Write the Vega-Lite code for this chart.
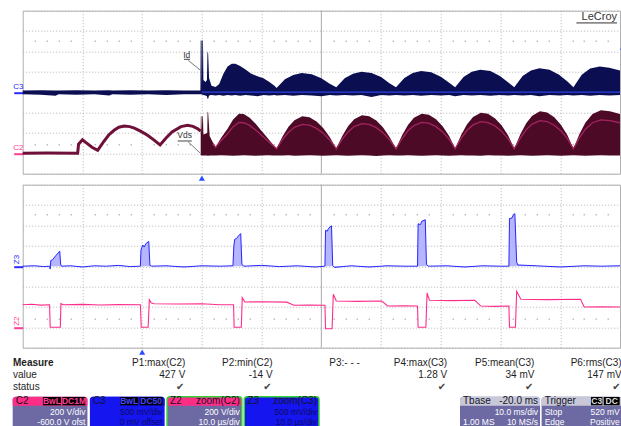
{
  "$schema": "https://vega.github.io/schema/vega-lite/v6.json",
  "background": "white",
  "padding": {"left": 11.7, "top": 8.7, "right": 0, "bottom": 0},
  "spacing": 11,
  "bounds": "flush",
  "config": {
    "font": "Liberation Sans",
    "view": {"stroke": "#b0b0b0", "strokeWidth": 1}
  },
  "datasets": {
    "c3": [
      {"t":0,"hi":0.04,"lo":-0.05},{"t":3,"hi":0.05,"lo":-0.06},{"t":5.5,"hi":0.04,"lo":-0.09},{"t":6,"hi":0.04,"lo":-0.05},{"t":9,"hi":0.05,"lo":-0.06},{"t":12,"hi":0.04,"lo":-0.05},{"t":14.5,"hi":0.05,"lo":-0.08},{"t":15,"hi":0.04,"lo":-0.05},{"t":18,"hi":0.05,"lo":-0.06},{"t":21,"hi":0.04,"lo":-0.05},{"t":24,"hi":0.05,"lo":-0.07},{"t":27,"hi":0.04,"lo":-0.05},
      {"t":29.75,"hi":0.04,"lo":-0.05},{"t":29.8,"hi":1.27,"lo":-0.05},{"t":29.95,"hi":1.27,"lo":-0.05},{"t":30.0,"hi":0.12,"lo":-0.06},{"t":30.07,"hi":1.27,"lo":-0.06},{"t":30.18,"hi":1.27,"lo":-0.06},{"t":30.25,"hi":0.3,"lo":-0.07},{"t":30.6,"hi":0.25,"lo":-0.08},{"t":30.85,"hi":0.3,"lo":-0.1},{"t":30.93,"hi":1.0,"lo":-0.16},{"t":31.05,"hi":0.95,"lo":-0.16},{"t":31.2,"hi":0.35,"lo":-0.08},{"t":31.6,"hi":0.16,"lo":-0.07},{"t":32.3,"hi":0.13,"lo":-0.08},{"t":32.9,"hi":0.2,"lo":-0.07},
      {"t":33.6,"hi":0.45,"lo":-0.09},{"t":34.3,"hi":0.63,"lo":-0.07},{"t":35.0,"hi":0.7,"lo":-0.08},{"t":35.6,"hi":0.7,"lo":-0.07},{"t":36.4,"hi":0.64,"lo":-0.09},{"t":37.3,"hi":0.56,"lo":-0.07},{"t":38.2,"hi":0.46,"lo":-0.08},{"t":39.3,"hi":0.39,"lo":-0.1},{"t":40.3,"hi":0.34,"lo":-0.07},{"t":41.3,"hi":0.25,"lo":-0.08},{"t":42.2,"hi":0.15,"lo":-0.07},{"t":42.5,"hi":0.1,"lo":-0.08},
      {"t":43.9,"hi":0.32,"lo":-0.07},{"t":45.3,"hi":0.42,"lo":-0.09},{"t":46.7,"hi":0.47,"lo":-0.07},{"t":48.4,"hi":0.44,"lo":-0.08},{"t":50.0,"hi":0.34,"lo":-0.1},{"t":51.4,"hi":0.21,"lo":-0.07},{"t":52.5,"hi":0.12,"lo":-0.08},
      {"t":53.9,"hi":0.34,"lo":-0.07},{"t":55.3,"hi":0.45,"lo":-0.08},{"t":56.7,"hi":0.5,"lo":-0.07},{"t":58.4,"hi":0.47,"lo":-0.12},{"t":60.0,"hi":0.37,"lo":-0.07},{"t":61.4,"hi":0.22,"lo":-0.08},{"t":62.5,"hi":0.12,"lo":-0.07},
      {"t":63.9,"hi":0.35,"lo":-0.08},{"t":65.3,"hi":0.47,"lo":-0.07},{"t":66.7,"hi":0.52,"lo":-0.09},{"t":68.4,"hi":0.49,"lo":-0.07},{"t":70.0,"hi":0.38,"lo":-0.08},{"t":71.4,"hi":0.23,"lo":-0.07},{"t":72.4,"hi":0.12,"lo":-0.1},
      {"t":73.8,"hi":0.37,"lo":-0.07},{"t":75.2,"hi":0.5,"lo":-0.08},{"t":76.6,"hi":0.55,"lo":-0.07},{"t":78.3,"hi":0.52,"lo":-0.09},{"t":79.9,"hi":0.4,"lo":-0.07},{"t":81.3,"hi":0.24,"lo":-0.08},{"t":82.3,"hi":0.12,"lo":-0.07},
      {"t":83.7,"hi":0.4,"lo":-0.08},{"t":85.1,"hi":0.53,"lo":-0.07},{"t":86.5,"hi":0.59,"lo":-0.1},{"t":88.2,"hi":0.55,"lo":-0.07},{"t":89.8,"hi":0.43,"lo":-0.08},{"t":91.2,"hi":0.26,"lo":-0.07},{"t":92.2,"hi":0.12,"lo":-0.08},
      {"t":93.6,"hi":0.43,"lo":-0.07},{"t":95.0,"hi":0.58,"lo":-0.09},{"t":96.6,"hi":0.63,"lo":-0.07},{"t":98.2,"hi":0.6,"lo":-0.08},{"t":100,"hi":0.53,"lo":-0.07}
    ],
    "c2pre": [
      {"t":0,"v":0},{"t":4,"v":2},{"t":9.2,"v":0},{"t":9.35,"v":90},{"t":10.0,"v":133},{"t":10.6,"v":105},{"t":11.6,"v":60},{"t":12.55,"v":29},{"t":13.5,"v":110},{"t":14.4,"v":180},{"t":15.3,"v":226},{"t":16.1,"v":256},{"t":17.0,"v":268},{"t":17.9,"v":262},{"t":18.7,"v":248},{"t":19.8,"v":215},{"t":20.9,"v":177},{"t":22.0,"v":130},{"t":23.0,"v":82},{"t":24.0,"v":150},{"t":25.0,"v":210},{"t":26.5,"v":262},{"t":27.6,"v":275},{"t":28.5,"v":265},{"t":29.3,"v":241},{"t":29.8,"v":218}
    ],
    "c2post": [
      {"t":29.8,"hi":218,"lo":-20,"mid":null},{"t":29.82,"hi":365,"lo":-20,"mid":null},{"t":29.92,"hi":365,"lo":-20,"mid":null},{"t":29.96,"hi":200,"lo":-22,"mid":null},{"t":30.08,"hi":365,"lo":-22,"mid":null},{"t":30.18,"hi":365,"lo":-22,"mid":null},{"t":30.25,"hi":185,"lo":-22,"mid":null},{"t":30.9,"hi":200,"lo":-22,"mid":null},{"t":30.95,"hi":410,"lo":-24,"mid":null},{"t":31.05,"hi":400,"lo":-24,"mid":null},{"t":31.3,"hi":170,"lo":-22,"mid":null},
      {"t":31.8,"hi":110,"lo":-22,"mid":94},{"t":32.3,"hi":62,"lo":-22,"mid":58},{"t":33.2,"hi":150,"lo":-20,"mid":124},{"t":34.3,"hi":241,"lo":-22,"mid":192},{"t":35.2,"hi":330,"lo":-24,"mid":259},{"t":36.2,"hi":389,"lo":-22,"mid":303},{"t":37.0,"hi":385,"lo":-20,"mid":300},{"t":38.0,"hi":350,"lo":-22,"mid":274},{"t":39.0,"hi":290,"lo":-24,"mid":229},{"t":40.0,"hi":220,"lo":-22,"mid":176},{"t":41.0,"hi":150,"lo":-20,"mid":124},{"t":42.0,"hi":80,"lo":-22,"mid":71},{"t":42.5,"hi":45,"lo":-22,"mid":45},
      {"t":43.5,"hi":166,"lo":-22,"mid":136},{"t":44.5,"hi":261,"lo":-20,"mid":207},{"t":45.5,"hi":325,"lo":-24,"mid":255},{"t":46.8,"hi":363,"lo":-22,"mid":284},{"t":48.0,"hi":353,"lo":-20,"mid":276},{"t":49.2,"hi":312,"lo":-22,"mid":245},{"t":50.3,"hi":249,"lo":-24,"mid":198},{"t":51.4,"hi":159,"lo":-22,"mid":131},{"t":52.5,"hi":45,"lo":-20,"mid":45},
      {"t":53.5,"hi":170,"lo":-22,"mid":139},{"t":54.5,"hi":268,"lo":-24,"mid":212},{"t":55.5,"hi":334,"lo":-22,"mid":262},{"t":56.8,"hi":373,"lo":-20,"mid":291},{"t":58.0,"hi":363,"lo":-22,"mid":284},{"t":59.2,"hi":321,"lo":-26,"mid":252},{"t":60.3,"hi":255,"lo":-22,"mid":203},{"t":61.4,"hi":163,"lo":-20,"mid":134},{"t":62.5,"hi":45,"lo":-22,"mid":45},
      {"t":63.5,"hi":176,"lo":-22,"mid":143},{"t":64.5,"hi":279,"lo":-20,"mid":221},{"t":65.5,"hi":348,"lo":-22,"mid":272},{"t":66.8,"hi":389,"lo":-24,"mid":303},{"t":68.0,"hi":379,"lo":-22,"mid":296},{"t":69.2,"hi":334,"lo":-20,"mid":262},{"t":70.3,"hi":265,"lo":-22,"mid":210},{"t":71.4,"hi":169,"lo":-24,"mid":138},{"t":72.4,"hi":45,"lo":-22,"mid":45},
      {"t":73.4,"hi":180,"lo":-20,"mid":146},{"t":74.4,"hi":286,"lo":-22,"mid":226},{"t":75.4,"hi":357,"lo":-22,"mid":279},{"t":76.7,"hi":399,"lo":-24,"mid":311},{"t":77.9,"hi":388,"lo":-20,"mid":302},{"t":79.1,"hi":342,"lo":-22,"mid":268},{"t":80.2,"hi":272,"lo":-22,"mid":215},{"t":81.3,"hi":172,"lo":-24,"mid":140},{"t":82.3,"hi":45,"lo":-22,"mid":45},
      {"t":83.3,"hi":184,"lo":-20,"mid":149},{"t":84.3,"hi":295,"lo":-22,"mid":233},{"t":85.3,"hi":368,"lo":-24,"mid":287},{"t":86.6,"hi":412,"lo":-22,"mid":320},{"t":87.8,"hi":401,"lo":-20,"mid":312},{"t":89.0,"hi":353,"lo":-22,"mid":276},{"t":90.1,"hi":280,"lo":-24,"mid":221},{"t":91.2,"hi":177,"lo":-22,"mid":144},{"t":92.2,"hi":45,"lo":-20,"mid":45},
      {"t":93.2,"hi":188,"lo":-22,"mid":152},{"t":94.2,"hi":301,"lo":-24,"mid":237},{"t":95.4,"hi":385,"lo":-22,"mid":300},{"t":96.8,"hi":422,"lo":-20,"mid":328},{"t":98.3,"hi":412,"lo":-22,"mid":320},{"t":100,"hi":385,"lo":-22,"mid":300}
    ],
    "z3": [
      {"t":0,"v":0},{"t":2,"v":0.01},{"t":3.5,"v":-0.01},{"t":4.5,"v":0},{"t":4.6,"v":-0.07},{"t":4.7,"v":0.14},{"t":5.0,"v":0.16},{"t":5.6,"v":0.27},{"t":6.2,"v":0.37},{"t":6.35,"v":0.05},{"t":6.5,"v":0},{"t":8,"v":0.01},{"t":10,"v":-0.02},{"t":12,"v":0.01},{"t":14,"v":0},{"t":16,"v":0.02},{"t":18,"v":-0.01},
      {"t":19.7,"v":0},{"t":19.8,"v":0.4},{"t":20.1,"v":0.52},{"t":20.35,"v":0.47},{"t":20.6,"v":0.55},{"t":21.1,"v":0.61},{"t":21.3,"v":0.02},{"t":21.6,"v":0},{"t":24,"v":0.01},{"t":27,"v":-0.02},{"t":30,"v":0.01},{"t":33,"v":0},
      {"t":35.2,"v":0.01},{"t":35.35,"v":0.5},{"t":35.5,"v":0.66},{"t":35.8,"v":0.68},{"t":36.1,"v":0.74},{"t":36.5,"v":0.8},{"t":36.7,"v":0.05},{"t":37.0,"v":0},{"t":40,"v":0.02},{"t":43,"v":-0.01},{"t":46,"v":0.01},{"t":49,"v":-0.02},
      {"t":50.6,"v":0},{"t":50.7,"v":0.88},{"t":51.0,"v":0.86},{"t":51.2,"v":0.93},{"t":51.7,"v":0.99},{"t":51.9,"v":0.02},{"t":52.2,"v":-0.03},{"t":55,"v":0.01},{"t":58,"v":-0.02},{"t":61,"v":0.01},{"t":64,"v":0},
      {"t":66.1,"v":0},{"t":66.2,"v":1.04},{"t":66.6,"v":1.02},{"t":66.8,"v":1.1},{"t":67.4,"v":1.14},{"t":67.6,"v":0.05},{"t":67.9,"v":0},{"t":71,"v":0.01},{"t":74,"v":-0.02},{"t":77,"v":0.01},{"t":80,"v":0},
      {"t":81.4,"v":0},{"t":81.5,"v":1.17},{"t":81.9,"v":1.18},{"t":82.1,"v":1.25},{"t":82.4,"v":1.29},{"t":82.7,"v":0.1},{"t":82.9,"v":0.03},{"t":86,"v":0.01},{"t":90,"v":-0.02},{"t":94,"v":0.01},{"t":97,"v":0},{"t":100,"v":0.01}
    ],
    "z2": [
      {"t":0,"v":222},{"t":1.5,"v":226},{"t":3,"v":218},{"t":4.5,"v":222},{"t":4.6,"v":0},{"t":6.3,"v":0},{"t":6.4,"v":232},{"t":6.8,"v":222},{"t":10,"v":225},{"t":13,"v":219},{"t":16,"v":223},{"t":19.7,"v":222},
      {"t":19.85,"v":0},{"t":21.0,"v":0},{"t":21.2,"v":271},{"t":21.5,"v":240},{"t":22,"v":232},{"t":26,"v":229},{"t":30,"v":231},{"t":33,"v":222},{"t":35.3,"v":222},
      {"t":35.4,"v":0},{"t":36.6,"v":0},{"t":36.75,"v":291},{"t":37.2,"v":248},{"t":40,"v":251},{"t":44.2,"v":247},{"t":45.4,"v":216},{"t":48,"v":219},{"t":50.6,"v":216},
      {"t":50.7,"v":-14},{"t":51.8,"v":-14},{"t":52.0,"v":324},{"t":52.5,"v":258},{"t":56,"v":255},{"t":60.1,"v":258},{"t":61.1,"v":209},{"t":64,"v":211},{"t":66.1,"v":209},
      {"t":66.2,"v":0},{"t":67.5,"v":0},{"t":67.7,"v":337},{"t":68.1,"v":265},{"t":72,"v":262},{"t":75.7,"v":265},{"t":76.7,"v":209},{"t":79,"v":206},{"t":81.4,"v":209},
      {"t":81.5,"v":0},{"t":82.5,"v":0},{"t":82.7,"v":353},{"t":83.4,"v":275},{"t":88,"v":272},{"t":93.4,"v":275},{"t":94.0,"v":199},{"t":97,"v":201},{"t":100,"v":199}
    ],
    "annId": [{"label":"Id","t":27.45,"v":0.92,"ut1":27.0,"ut2":28.0,"uv":0.807,"lt1":27.72,"lv1":0.78,"lt2":29.75,"lv2":0.54}],
    "annVds": [{"label":"Vds","t":27.1,"v":175,"ut1":25.95,"ut2":28.3,"uv":121,"lt1":27.7,"lv1":113,"lt2":29.7,"lv2":3}],
    "trigTop": [{"t":30}],
    "trigBot": [{"t":20}],
    "brand": [{"name":"LeCroy"}],
    "rows": [{"row":"Measure"},{"row":"value"},{"row":"status"}],
    "measure": [
      {"p":"P1","name":"P1:max(C2)","value":"427 V","status":"✔"},
      {"p":"P2","name":"P2:min(C2)","value":"-14 V","status":"✔"},
      {"p":"P3","name":"P3:- - -","value":"","status":""},
      {"p":"P4","name":"P4:max(C3)","value":"1.28 V","status":"✔"},
      {"p":"P5","name":"P5:mean(C3)","value":"34 mV","status":"✔"},
      {"p":"P6","name":"P6:rms(C3)","value":"147 mV","status":"✔"}
    ],
    "chan": [
      {"box":"C2","head":"C2","hr":"","b1":"DC1M","b2":"BwL","l1":"200 V/div","l2":"-600.0 V ofst"},
      {"box":"C3","head":"C3","hr":"","b1":"DC50","b2":"BwL","l1":"500 mV/div","l2":"0 mV offset"},
      {"box":"Z2","head":"Z2","hr":"zoom(C2)","b1":"","b2":"","l1":"200 V/div","l2":"10.0 µs/div"},
      {"box":"Z3","head":"Z3","hr":"zoom(C3)","b1":"","b2":"","l1":"500 mV/div","l2":"10.0 µs/div"}
    ],
    "tb": [
      {"box":"Tbase","head":"Tbase","hr":"-20.0 ms","b1":"","b2":"","l1":"10.0 ms/div","l1l":"","l2":"10 MS/s","l2l":"1.00 MS"},
      {"box":"Trigger","head":"Trigger","hr":"","b1":"DC","b2":"C3","l1":"520 mV","l1l":"Stop","l2":"Positive","l2l":"Edge"}
    ]
  },
  "vconcat": [
    {
      "width": 597.3,
      "height": 163,
      "resolve": {"scale": {"x": "independent", "y": "independent"}},
      "layer": [
        {
          "data": {"name": "brand"},
          "mark": {"type": "rule", "color": "#a8a8a8", "strokeWidth": 1},
          "encoding": {
            "x": {"datum": 50, "type": "quantitative", "scale": {"domain": [0, 100], "nice": false, "zero": false},
              "axis": {"orient": "bottom", "values": [10,20,30,40,60,70,80,90], "grid": true, "gridDash": [1,2], "gridColor": "#b4b4b4", "gridWidth": 1, "labels": false, "ticks": false, "domain": false, "title": null}}
          }
        },
        {
          "data": {"name": "c2post"},
          "mark": {"type": "area", "color": "#4d0a27"},
          "encoding": {
            "x": {"field": "t", "type": "quantitative", "scale": {"domain": [0, 100], "nice": false, "zero": false},
              "axis": {"orient": "top", "offset": -30.8, "values": [2,4,6,8,12,14,16,18,22,24,26,28,32,34,36,38,42,44,46,48,52,54,56,58,62,64,66,68,72,74,76,78,82,84,86,88,92,94,96,98], "grid": false, "labels": false, "domain": false, "ticks": true, "tickSize": 1.5, "tickWidth": 1, "tickColor": "#a0a0a0", "title": null}},
            "y": {"field": "hi", "type": "quantitative", "scale": {"domain": [-200, 1400], "nice": false, "zero": false},
              "axis": {"orient": "left", "values": [-200,0,200,400,600,800,1000,1200,1400], "grid": true, "gridDash": [1,2], "gridColor": "#b4b4b4", "gridWidth": 1, "domain": false, "title": null, "ticks": true, "tickSize": 9, "tickWidth": 2,
                "tickColor": {"condition": {"test": "datum.value === 0", "value": "#ff3c96"}, "value": "rgba(0,0,0,0)"},
                "labelExpr": "datum.value === 0 ? 'C2' : ''", "labelColor": "#ff3c96", "labelFontSize": 8, "labelAlign": "left", "labelBaseline": "bottom", "labelPadding": 1, "labelOffset": -1.5}},
            "y2": {"field": "lo"}
          }
        },
        {
          "data": {"name": "c2post"},
          "mark": {"type": "line", "color": "#a3245e", "strokeWidth": 1.3},
          "encoding": {
            "x": {"field": "t", "type": "quantitative", "scale": {"domain": [0, 100], "nice": false, "zero": false}, "axis": null},
            "y": {"field": "mid", "type": "quantitative", "scale": {"domain": [-200, 1400], "nice": false, "zero": false}, "axis": null}
          }
        },
        {
          "data": {"name": "c2pre"},
          "mark": {"type": "line", "color": "#6e1038", "strokeWidth": 3},
          "encoding": {
            "x": {"field": "t", "type": "quantitative", "scale": {"domain": [0, 100], "nice": false, "zero": false}, "axis": null},
            "y": {"field": "v", "type": "quantitative", "scale": {"domain": [-200, 1400], "nice": false, "zero": false}, "axis": null}
          }
        },
        {
          "data": {"name": "c3"},
          "mark": {"type": "area", "color": "#0b0f52"},
          "encoding": {
            "x": {"field": "t", "type": "quantitative", "scale": {"domain": [0, 100], "nice": false, "zero": false}, "axis": null},
            "y": {"field": "hi", "type": "quantitative", "scale": {"domain": [-2, 2], "nice": false, "zero": false},
              "axis": {"orient": "left", "values": [0], "grid": false, "domain": false, "title": null, "ticks": true, "tickSize": 9, "tickWidth": 2, "tickColor": "#2b2bff", "labelExpr": "'C3'", "labelColor": "#2b2bff", "labelFontSize": 8, "labelAlign": "left", "labelBaseline": "bottom", "labelPadding": 1, "labelOffset": -1.5}},
            "y2": {"field": "lo"}
          }
        },
        {
          "data": {"name": "brand"},
          "mark": {"type": "rule", "color": "#2a45e0", "strokeWidth": 1.2},
          "encoding": {
            "x": {"datum": 30, "type": "quantitative", "scale": {"domain": [0, 100], "nice": false, "zero": false}, "axis": null},
            "x2": {"datum": 100},
            "y": {"datum": 0, "type": "quantitative", "scale": {"domain": [-2, 2], "nice": false, "zero": false},
              "axis": {"orient": "right", "values": [1.07], "grid": false, "labels": false, "domain": false, "ticks": true, "tickSize": 3, "tickWidth": 1.5, "tickColor": "#2b2bff", "title": null}}
          }
        },
        {
          "data": {"name": "brand"},
          "mark": {"type": "text", "align": "right", "baseline": "middle", "fontSize": 11, "color": "#333333"},
          "encoding": {
            "x": {"datum": 99.5, "type": "quantitative", "scale": {"domain": [0, 100], "nice": false, "zero": false}, "axis": null},
            "y": {"datum": 1.84, "type": "quantitative", "scale": {"domain": [-2, 2], "nice": false, "zero": false}, "axis": null},
            "text": {"field": "name"}
          }
        },
        {
          "data": {"name": "brand"},
          "mark": {"type": "rule", "color": "#333333", "strokeWidth": 1},
          "encoding": {
            "x": {"datum": 92.7, "type": "quantitative", "scale": {"domain": [0, 100], "nice": false, "zero": false}, "axis": null},
            "x2": {"datum": 99.5},
            "y": {"datum": 1.7, "type": "quantitative", "scale": {"domain": [-2, 2], "nice": false, "zero": false}, "axis": null}
          }
        },
        {
          "data": {"name": "annId"},
          "mark": {"type": "text", "align": "center", "baseline": "middle", "fontSize": 8.5, "color": "#333333"},
          "encoding": {
            "x": {"field": "t", "type": "quantitative", "scale": {"domain": [0, 100], "nice": false, "zero": false}, "axis": null},
            "y": {"field": "v", "type": "quantitative", "scale": {"domain": [-2, 2], "nice": false, "zero": false}, "axis": null},
            "text": {"field": "label"}
          }
        },
        {
          "data": {"name": "annId"},
          "mark": {"type": "rule", "color": "#444444", "strokeWidth": 1},
          "encoding": {
            "x": {"field": "ut1", "type": "quantitative", "scale": {"domain": [0, 100], "nice": false, "zero": false}, "axis": null},
            "x2": {"field": "ut2"},
            "y": {"field": "uv", "type": "quantitative", "scale": {"domain": [-2, 2], "nice": false, "zero": false}, "axis": null}
          }
        },
        {
          "data": {"name": "annId"},
          "mark": {"type": "rule", "color": "#555555", "strokeWidth": 0.8},
          "encoding": {
            "x": {"field": "lt1", "type": "quantitative", "scale": {"domain": [0, 100], "nice": false, "zero": false}, "axis": null},
            "x2": {"field": "lt2"},
            "y": {"field": "lv1", "type": "quantitative", "scale": {"domain": [-2, 2], "nice": false, "zero": false}, "axis": null},
            "y2": {"field": "lv2"}
          }
        },
        {
          "data": {"name": "annVds"},
          "mark": {"type": "text", "align": "center", "baseline": "middle", "fontSize": 8.5, "color": "#333333"},
          "encoding": {
            "x": {"field": "t", "type": "quantitative", "scale": {"domain": [0, 100], "nice": false, "zero": false}, "axis": null},
            "y": {"field": "v", "type": "quantitative", "scale": {"domain": [-200, 1400], "nice": false, "zero": false}, "axis": null},
            "text": {"field": "label"}
          }
        },
        {
          "data": {"name": "annVds"},
          "mark": {"type": "rule", "color": "#444444", "strokeWidth": 1},
          "encoding": {
            "x": {"field": "ut1", "type": "quantitative", "scale": {"domain": [0, 100], "nice": false, "zero": false}, "axis": null},
            "x2": {"field": "ut2"},
            "y": {"field": "uv", "type": "quantitative", "scale": {"domain": [-200, 1400], "nice": false, "zero": false}, "axis": null}
          }
        },
        {
          "data": {"name": "annVds"},
          "mark": {"type": "rule", "color": "#555555", "strokeWidth": 0.8},
          "encoding": {
            "x": {"field": "lt1", "type": "quantitative", "scale": {"domain": [0, 100], "nice": false, "zero": false}, "axis": null},
            "x2": {"field": "lt2"},
            "y": {"field": "lv1", "type": "quantitative", "scale": {"domain": [-200, 1400], "nice": false, "zero": false}, "axis": null},
            "y2": {"field": "lv2"}
          }
        },
        {
          "data": {"name": "trigTop"},
          "mark": {"type": "point", "shape": "triangle-up", "size": 36, "filled": true, "color": "#2a4cff", "opacity": 1, "yOffset": 4.5},
          "encoding": {
            "x": {"field": "t", "type": "quantitative", "scale": {"domain": [0, 100], "nice": false, "zero": false},
              "axis": {"orient": "bottom", "offset": -30.2, "values": [2,4,6,8,12,14,16,18,22,24,26,28,32,34,36,38,42,44,46,48,52,54,56,58,62,64,66,68,72,74,76,78,82,84,86,88,92,94,96,98], "grid": false, "labels": false, "domain": false, "ticks": true, "tickSize": 1.5, "tickWidth": 1, "tickColor": "#a0a0a0", "title": null}},
            "y": {"datum": -2, "type": "quantitative", "scale": {"domain": [-2, 2], "nice": false, "zero": false}, "axis": null}
          }
        }
      ]
    },
    {
      "width": 597.3,
      "height": 163,
      "resolve": {"scale": {"x": "independent", "y": "independent"}},
      "layer": [
        {
          "data": {"name": "brand"},
          "mark": {"type": "rule", "color": "#a8a8a8", "strokeWidth": 1},
          "encoding": {
            "x": {"datum": 50, "type": "quantitative", "scale": {"domain": [0, 100], "nice": false, "zero": false},
              "axis": {"orient": "bottom", "values": [10,20,30,40,60,70,80,90], "grid": true, "gridDash": [1,2], "gridColor": "#b4b4b4", "gridWidth": 1, "labels": false, "ticks": false, "domain": false, "title": null}}
          }
        },
        {
          "data": {"name": "z3"},
          "mark": {"type": "area", "color": "#a9a9ff", "opacity": 0.85},
          "encoding": {
            "x": {"field": "t", "type": "quantitative", "scale": {"domain": [0, 100], "nice": false, "zero": false}, "axis": null},
            "y": {"field": "v", "type": "quantitative", "scale": {"domain": [-2, 2], "nice": false, "zero": false},
              "axis": {"orient": "left", "values": [0], "grid": false, "domain": false, "title": null, "ticks": true, "tickSize": 9, "tickWidth": 2, "tickColor": "#2b2bff", "labelExpr": "'Z3'", "labelColor": "#2b2bff", "labelFontSize": 8, "labelAngle": 270, "labelAlign": "left", "labelBaseline": "top", "labelPadding": 1, "labelOffset": -2.5}},
            "y2": {"datum": 0}
          }
        },
        {
          "data": {"name": "z3"},
          "mark": {"type": "line", "color": "#2424ff", "strokeWidth": 1},
          "encoding": {
            "x": {"field": "t", "type": "quantitative", "scale": {"domain": [0, 100], "nice": false, "zero": false}, "axis": null},
            "y": {"field": "v", "type": "quantitative", "scale": {"domain": [-2, 2], "nice": false, "zero": false}, "axis": null}
          }
        },
        {
          "data": {"name": "z2"},
          "mark": {"type": "line", "color": "#ff2d8a", "strokeWidth": 1.1},
          "encoding": {
            "x": {"field": "t", "type": "quantitative", "scale": {"domain": [0, 100], "nice": false, "zero": false},
              "axis": {"orient": "top", "offset": -30.3, "values": [2,4,6,8,12,14,16,18,22,24,26,28,32,34,36,38,42,44,46,48,52,54,56,58,62,64,66,68,72,74,76,78,82,84,86,88,92,94,96,98], "grid": false, "labels": false, "domain": false, "ticks": true, "tickSize": 1.5, "tickWidth": 1, "tickColor": "#a0a0a0", "title": null}},
            "y": {"field": "v", "type": "quantitative", "scale": {"domain": [-200, 1400], "nice": false, "zero": false},
              "axis": {"orient": "left", "values": [-200,0,200,400,600,800,1000,1200,1400], "grid": true, "gridDash": [1,2], "gridColor": "#b4b4b4", "gridWidth": 1, "domain": false, "title": null, "ticks": true, "tickSize": 9, "tickWidth": 2,
                "tickColor": {"condition": {"test": "datum.value === 0", "value": "#ff3c96"}, "value": "rgba(0,0,0,0)"},
                "labelExpr": "datum.value === 0 ? 'Z2' : ''", "labelColor": "#ff3c96", "labelFontSize": 8, "labelAngle": 270, "labelAlign": "left", "labelBaseline": "top", "labelPadding": 1, "labelOffset": -2}}
          }
        },
        {
          "data": {"name": "trigBot"},
          "mark": {"type": "point", "shape": "triangle-up", "size": 36, "filled": true, "color": "#2a4cff", "opacity": 1, "yOffset": 4.5},
          "encoding": {
            "x": {"field": "t", "type": "quantitative", "scale": {"domain": [0, 100], "nice": false, "zero": false},
              "axis": {"orient": "bottom", "offset": -29.75, "values": [2,4,6,8,12,14,16,18,22,24,26,28,32,34,36,38,42,44,46,48,52,54,56,58,62,64,66,68,72,74,76,78,82,84,86,88,92,94,96,98], "grid": false, "labels": false, "domain": false, "ticks": true, "tickSize": 1.5, "tickWidth": 1, "tickColor": "#a0a0a0", "title": null}},
            "y": {"datum": -2, "type": "quantitative", "scale": {"domain": [-2, 2], "nice": false, "zero": false}, "axis": null}
          }
        }
      ]
    },
    {
      "width": 597.3,
      "height": 70,
      "view": {"stroke": null},
      "resolve": {"scale": {"x": "independent"}},
      "layer": [
        {
          "data": {"name": "rows"},
          "transform": [{"filter": "datum.row === 'Measure'"}],
          "mark": {"type": "text", "align": "left", "baseline": "middle", "fontSize": 10, "fontWeight": "bold", "color": "#1e1e1e"},
          "encoding": {
            "x": {"datum": "lab", "type": "nominal", "scale": {"type": "point", "domain": ["lab"], "range": [-9.7, -9.7], "padding": 0}, "axis": null},
            "y": {"field": "row", "type": "nominal", "scale": {"type": "point", "domain": ["Measure","value","status","header","line1","line2"], "range": [4, 64.8], "padding": 0}, "axis": null},
            "text": {"field": "row"}
          }
        },
        {
          "data": {"name": "rows"},
          "transform": [{"filter": "datum.row !== 'Measure'"}],
          "mark": {"type": "text", "align": "left", "baseline": "middle", "fontSize": 10, "color": "#1e1e1e"},
          "encoding": {
            "x": {"datum": "lab", "type": "nominal", "scale": {"type": "point", "domain": ["lab"], "range": [-9.7, -9.7], "padding": 0}, "axis": null},
            "y": {"field": "row", "type": "nominal", "scale": {"type": "point", "domain": ["Measure","value","status","header","line1","line2"], "range": [4, 64.8], "padding": 0}, "axis": null},
            "text": {"field": "row"}
          }
        },
        {
          "data": {"name": "measure"},
          "mark": {"type": "text", "align": "right", "baseline": "middle", "fontSize": 10, "color": "#1e1e1e"},
          "encoding": {
            "x": {"field": "p", "type": "nominal", "scale": {"type": "point", "domain": ["P1","P2","P3","P4","P5","P6"], "range": [162.6, 599], "padding": 0}, "axis": null},
            "y": {"datum": "Measure", "type": "nominal", "scale": {"type": "point", "domain": ["Measure","value","status","header","line1","line2"], "range": [4, 64.8], "padding": 0}, "axis": null},
            "text": {"field": "name"}
          }
        },
        {
          "data": {"name": "measure"},
          "mark": {"type": "text", "align": "right", "baseline": "middle", "fontSize": 10, "color": "#1e1e1e"},
          "encoding": {
            "x": {"field": "p", "type": "nominal", "scale": {"type": "point", "domain": ["P1","P2","P3","P4","P5","P6"], "range": [162.6, 599], "padding": 0}, "axis": null},
            "y": {"datum": "value", "type": "nominal", "scale": {"type": "point", "domain": ["Measure","value","status","header","line1","line2"], "range": [4, 64.8], "padding": 0}, "axis": null},
            "text": {"field": "value"}
          }
        },
        {
          "data": {"name": "measure"},
          "mark": {"type": "text", "align": "right", "baseline": "middle", "fontSize": 10, "font": "DejaVu Sans", "color": "#444444", "dx": -1},
          "encoding": {
            "x": {"field": "p", "type": "nominal", "scale": {"type": "point", "domain": ["P1","P2","P3","P4","P5","P6"], "range": [162.6, 599], "padding": 0}, "axis": null},
            "y": {"datum": "status", "type": "nominal", "scale": {"type": "point", "domain": ["Measure","value","status","header","line1","line2"], "range": [4, 64.8], "padding": 0}, "axis": null},
            "text": {"field": "status"}
          }
        },
        {
          "data": {"name": "chan"},
          "mark": {"type": "rect", "cornerRadius": 3, "yOffset": -2.5, "y2Offset": 10},
          "encoding": {
            "x": {"field": "box", "type": "nominal", "scale": {"type": "band", "domain": ["C2","C3","Z2","Z3"], "range": [-10, 296.3], "paddingInner": 0.032, "paddingOuter": 0}, "axis": null},
            "y": {"datum": "header", "type": "nominal", "scale": {"type": "point", "domain": ["Measure","value","status","header","line1","line2"], "range": [4, 64.8], "padding": 0}, "axis": null},
            "y2": {"datum": "line2"},
            "color": {"condition": {"test": "datum.box === 'C3' || datum.box === 'Z3'", "value": "#1515f0"}, "value": "#6c69a3"}
          }
        },
        {
          "data": {"name": "chan"},
          "mark": {"type": "rect", "cornerRadiusTopLeft": 3, "cornerRadiusTopRight": 3, "yOffset": -2.5, "y2Offset": 6.5},
          "encoding": {
            "x": {"field": "box", "type": "nominal", "scale": {"type": "band", "domain": ["C2","C3","Z2","Z3"], "range": [-10, 296.3], "paddingInner": 0.032, "paddingOuter": 0}, "axis": null},
            "y": {"datum": "header", "type": "nominal", "scale": {"type": "point", "domain": ["Measure","value","status","header","line1","line2"], "range": [4, 64.8], "padding": 0}, "axis": null},
            "y2": {"datum": "header"},
            "color": {"condition": {"test": "datum.box === 'C3' || datum.box === 'Z3'", "value": "#1515f0"}, "value": "#ff2d86"}
          }
        },
        {
          "data": {"name": "chan"},
          "transform": [{"filter": "datum.box === 'Z2' || datum.box === 'Z3'"}],
          "mark": {"type": "rect", "cornerRadius": 3, "fillOpacity": 0, "stroke": "#35d035", "strokeWidth": 1.5, "yOffset": -2.5, "y2Offset": 10},
          "encoding": {
            "x": {"field": "box", "type": "nominal", "scale": {"type": "band", "domain": ["C2","C3","Z2","Z3"], "range": [-10, 296.3], "paddingInner": 0.032, "paddingOuter": 0}, "axis": null},
            "y": {"datum": "header", "type": "nominal", "scale": {"type": "point", "domain": ["Measure","value","status","header","line1","line2"], "range": [4, 64.8], "padding": 0}, "axis": null},
            "y2": {"datum": "line2"}
          }
        },
        {
          "data": {"name": "chan"},
          "mark": {"type": "text", "align": "left", "baseline": "middle", "dx": 3, "dy": 2, "fontSize": 10, "color": "#141428"},
          "encoding": {
            "x": {"field": "box", "type": "nominal", "bandPosition": 0, "scale": {"type": "band", "domain": ["C2","C3","Z2","Z3"], "range": [-10, 296.3], "paddingInner": 0.032, "paddingOuter": 0}, "axis": null},
            "y": {"datum": "header", "type": "nominal", "scale": {"type": "point", "domain": ["Measure","value","status","header","line1","line2"], "range": [4, 64.8], "padding": 0}, "axis": null},
            "text": {"field": "head"}
          }
        },
        {
          "data": {"name": "chan"},
          "mark": {"type": "text", "align": "right", "baseline": "middle", "dx": -2, "dy": 2, "fontSize": 10, "color": "#141428"},
          "encoding": {
            "x": {"field": "box", "type": "nominal", "bandPosition": 1, "scale": {"type": "band", "domain": ["C2","C3","Z2","Z3"], "range": [-10, 296.3], "paddingInner": 0.032, "paddingOuter": 0}, "axis": null},
            "y": {"datum": "header", "type": "nominal", "scale": {"type": "point", "domain": ["Measure","value","status","header","line1","line2"], "range": [4, 64.8], "padding": 0}, "axis": null},
            "text": {"field": "hr"}
          }
        },
        {
          "data": {"name": "chan"},
          "transform": [{"filter": "datum.b1 !== ''"}],
          "mark": {"type": "point", "shape": "M-1,-0.36H1V0.36H-1Z", "size": 529, "filled": true, "color": "#000000", "opacity": 1, "xOffset": -13.5, "yOffset": 2},
          "encoding": {
            "x": {"field": "box", "type": "nominal", "bandPosition": 1, "scale": {"type": "band", "domain": ["C2","C3","Z2","Z3"], "range": [-10, 296.3], "paddingInner": 0.032, "paddingOuter": 0}, "axis": null},
            "y": {"datum": "header", "type": "nominal", "scale": {"type": "point", "domain": ["Measure","value","status","header","line1","line2"], "range": [4, 64.8], "padding": 0}, "axis": null}
          }
        },
        {
          "data": {"name": "chan"},
          "transform": [{"filter": "datum.b2 !== ''"}],
          "mark": {"type": "point", "shape": "M-1,-0.46H1V0.46H-1Z", "size": 324, "filled": true, "color": "#000000", "opacity": 1, "xOffset": -35.5, "yOffset": 2},
          "encoding": {
            "x": {"field": "box", "type": "nominal", "bandPosition": 1, "scale": {"type": "band", "domain": ["C2","C3","Z2","Z3"], "range": [-10, 296.3], "paddingInner": 0.032, "paddingOuter": 0}, "axis": null},
            "y": {"datum": "header", "type": "nominal", "scale": {"type": "point", "domain": ["Measure","value","status","header","line1","line2"], "range": [4, 64.8], "padding": 0}, "axis": null}
          }
        },
        {
          "data": {"name": "chan"},
          "mark": {"type": "text", "align": "center", "baseline": "middle", "dx": -13.5, "dy": 2, "fontSize": 8.5, "fontWeight": "bold"},
          "encoding": {
            "x": {"field": "box", "type": "nominal", "bandPosition": 1, "scale": {"type": "band", "domain": ["C2","C3","Z2","Z3"], "range": [-10, 296.3], "paddingInner": 0.032, "paddingOuter": 0}, "axis": null},
            "y": {"datum": "header", "type": "nominal", "scale": {"type": "point", "domain": ["Measure","value","status","header","line1","line2"], "range": [4, 64.8], "padding": 0}, "axis": null},
            "text": {"field": "b1"},
            "color": {"condition": {"test": "datum.box === 'C2'", "value": "#ff3c96"}, "value": "#4646ff"}
          }
        },
        {
          "data": {"name": "chan"},
          "mark": {"type": "text", "align": "center", "baseline": "middle", "dx": -35.5, "dy": 2, "fontSize": 8.5, "fontWeight": "bold"},
          "encoding": {
            "x": {"field": "box", "type": "nominal", "bandPosition": 1, "scale": {"type": "band", "domain": ["C2","C3","Z2","Z3"], "range": [-10, 296.3], "paddingInner": 0.032, "paddingOuter": 0}, "axis": null},
            "y": {"datum": "header", "type": "nominal", "scale": {"type": "point", "domain": ["Measure","value","status","header","line1","line2"], "range": [4, 64.8], "padding": 0}, "axis": null},
            "text": {"field": "b2"},
            "color": {"condition": {"test": "datum.box === 'C2'", "value": "#ff3c96"}, "value": "#4646ff"}
          }
        },
        {
          "data": {"name": "chan"},
          "mark": {"type": "text", "align": "right", "baseline": "middle", "dx": -2, "dy": 0.5, "fontSize": 8.5, "limit": 72, "ellipsis": ""},
          "encoding": {
            "x": {"field": "box", "type": "nominal", "bandPosition": 1, "scale": {"type": "band", "domain": ["C2","C3","Z2","Z3"], "range": [-10, 296.3], "paddingInner": 0.032, "paddingOuter": 0}, "axis": null},
            "y": {"datum": "line1", "type": "nominal", "scale": {"type": "point", "domain": ["Measure","value","status","header","line1","line2"], "range": [4, 64.8], "padding": 0}, "axis": null},
            "text": {"field": "l1"},
            "color": {"condition": {"test": "datum.box === 'C3' || datum.box === 'Z3'", "value": "#0c0c60"}, "value": "#ffffff"}
          }
        },
        {
          "data": {"name": "chan"},
          "mark": {"type": "text", "align": "right", "baseline": "middle", "dx": -2, "dy": -1.5, "fontSize": 8.5, "limit": 72, "ellipsis": ""},
          "encoding": {
            "x": {"field": "box", "type": "nominal", "bandPosition": 1, "scale": {"type": "band", "domain": ["C2","C3","Z2","Z3"], "range": [-10, 296.3], "paddingInner": 0.032, "paddingOuter": 0}, "axis": null},
            "y": {"datum": "line2", "type": "nominal", "scale": {"type": "point", "domain": ["Measure","value","status","header","line1","line2"], "range": [4, 64.8], "padding": 0}, "axis": null},
            "text": {"field": "l2"},
            "color": {"condition": {"test": "datum.box === 'C3' || datum.box === 'Z3'", "value": "#0c0c60"}, "value": "#ffffff"}
          }
        },
        {
          "data": {"name": "tb"},
          "mark": {"type": "rect", "cornerRadius": 3, "yOffset": -2.5, "y2Offset": 10, "color": "#6c69a3"},
          "encoding": {
            "x": {"field": "box", "type": "nominal", "scale": {"type": "band", "domain": ["Tbase","Trigger"], "range": [437.3, 599], "paddingInner": 0.02, "paddingOuter": 0}, "axis": null},
            "y": {"datum": "header", "type": "nominal", "scale": {"type": "point", "domain": ["Measure","value","status","header","line1","line2"], "range": [4, 64.8], "padding": 0}, "axis": null},
            "y2": {"datum": "line2"}
          }
        },
        {
          "data": {"name": "tb"},
          "mark": {"type": "rect", "cornerRadiusTopLeft": 3, "cornerRadiusTopRight": 3, "yOffset": -2.5, "y2Offset": 6.5, "color": "#c8c8d8"},
          "encoding": {
            "x": {"field": "box", "type": "nominal", "scale": {"type": "band", "domain": ["Tbase","Trigger"], "range": [437.3, 599], "paddingInner": 0.02, "paddingOuter": 0}, "axis": null},
            "y": {"datum": "header", "type": "nominal", "scale": {"type": "point", "domain": ["Measure","value","status","header","line1","line2"], "range": [4, 64.8], "padding": 0}, "axis": null},
            "y2": {"datum": "header"}
          }
        },
        {
          "data": {"name": "tb"},
          "mark": {"type": "text", "align": "left", "baseline": "middle", "dx": 3, "dy": 2, "fontSize": 10, "color": "#141428"},
          "encoding": {
            "x": {"field": "box", "type": "nominal", "bandPosition": 0, "scale": {"type": "band", "domain": ["Tbase","Trigger"], "range": [437.3, 599], "paddingInner": 0.02, "paddingOuter": 0}, "axis": null},
            "y": {"datum": "header", "type": "nominal", "scale": {"type": "point", "domain": ["Measure","value","status","header","line1","line2"], "range": [4, 64.8], "padding": 0}, "axis": null},
            "text": {"field": "head"}
          }
        },
        {
          "data": {"name": "tb"},
          "mark": {"type": "text", "align": "right", "baseline": "middle", "dx": -2, "dy": 2, "fontSize": 10, "color": "#141428"},
          "encoding": {
            "x": {"field": "box", "type": "nominal", "bandPosition": 1, "scale": {"type": "band", "domain": ["Tbase","Trigger"], "range": [437.3, 599], "paddingInner": 0.02, "paddingOuter": 0}, "axis": null},
            "y": {"datum": "header", "type": "nominal", "scale": {"type": "point", "domain": ["Measure","value","status","header","line1","line2"], "range": [4, 64.8], "padding": 0}, "axis": null},
            "text": {"field": "hr"}
          }
        },
        {
          "data": {"name": "tb"},
          "transform": [{"filter": "datum.b1 !== ''"}],
          "mark": {"type": "point", "shape": "M-1,-0.52H1V0.52H-1Z", "size": 256, "filled": true, "color": "#000000", "opacity": 1, "xOffset": -10, "yOffset": 2},
          "encoding": {
            "x": {"field": "box", "type": "nominal", "bandPosition": 1, "scale": {"type": "band", "domain": ["Tbase","Trigger"], "range": [437.3, 599], "paddingInner": 0.02, "paddingOuter": 0}, "axis": null},
            "y": {"datum": "header", "type": "nominal", "scale": {"type": "point", "domain": ["Measure","value","status","header","line1","line2"], "range": [4, 64.8], "padding": 0}, "axis": null}
          }
        },
        {
          "data": {"name": "tb"},
          "transform": [{"filter": "datum.b2 !== ''"}],
          "mark": {"type": "point", "shape": "M-1,-0.72H1V0.72H-1Z", "size": 132, "filled": true, "color": "#000000", "opacity": 1, "xOffset": -25, "yOffset": 2},
          "encoding": {
            "x": {"field": "box", "type": "nominal", "bandPosition": 1, "scale": {"type": "band", "domain": ["Tbase","Trigger"], "range": [437.3, 599], "paddingInner": 0.02, "paddingOuter": 0}, "axis": null},
            "y": {"datum": "header", "type": "nominal", "scale": {"type": "point", "domain": ["Measure","value","status","header","line1","line2"], "range": [4, 64.8], "padding": 0}, "axis": null}
          }
        },
        {
          "data": {"name": "tb"},
          "mark": {"type": "text", "align": "center", "baseline": "middle", "dx": -10, "dy": 2, "fontSize": 8.5, "fontWeight": "bold", "color": "#dcdcdc"},
          "encoding": {
            "x": {"field": "box", "type": "nominal", "bandPosition": 1, "scale": {"type": "band", "domain": ["Tbase","Trigger"], "range": [437.3, 599], "paddingInner": 0.02, "paddingOuter": 0}, "axis": null},
            "y": {"datum": "header", "type": "nominal", "scale": {"type": "point", "domain": ["Measure","value","status","header","line1","line2"], "range": [4, 64.8], "padding": 0}, "axis": null},
            "text": {"field": "b1"}
          }
        },
        {
          "data": {"name": "tb"},
          "mark": {"type": "text", "align": "center", "baseline": "middle", "dx": -25, "dy": 2, "fontSize": 8.5, "fontWeight": "bold", "color": "#dcdcdc"},
          "encoding": {
            "x": {"field": "box", "type": "nominal", "bandPosition": 1, "scale": {"type": "band", "domain": ["Tbase","Trigger"], "range": [437.3, 599], "paddingInner": 0.02, "paddingOuter": 0}, "axis": null},
            "y": {"datum": "header", "type": "nominal", "scale": {"type": "point", "domain": ["Measure","value","status","header","line1","line2"], "range": [4, 64.8], "padding": 0}, "axis": null},
            "text": {"field": "b2"}
          }
        },
        {
          "data": {"name": "tb"},
          "mark": {"type": "text", "align": "right", "baseline": "middle", "dx": -2, "dy": 0.5, "fontSize": 8.5, "color": "#ffffff"},
          "encoding": {
            "x": {"field": "box", "type": "nominal", "bandPosition": 1, "scale": {"type": "band", "domain": ["Tbase","Trigger"], "range": [437.3, 599], "paddingInner": 0.02, "paddingOuter": 0}, "axis": null},
            "y": {"datum": "line1", "type": "nominal", "scale": {"type": "point", "domain": ["Measure","value","status","header","line1","line2"], "range": [4, 64.8], "padding": 0}, "axis": null},
            "text": {"field": "l1"}
          }
        },
        {
          "data": {"name": "tb"},
          "mark": {"type": "text", "align": "left", "baseline": "middle", "dx": 3, "dy": 0.5, "fontSize": 8.5, "color": "#ffffff"},
          "encoding": {
            "x": {"field": "box", "type": "nominal", "bandPosition": 0, "scale": {"type": "band", "domain": ["Tbase","Trigger"], "range": [437.3, 599], "paddingInner": 0.02, "paddingOuter": 0}, "axis": null},
            "y": {"datum": "line1", "type": "nominal", "scale": {"type": "point", "domain": ["Measure","value","status","header","line1","line2"], "range": [4, 64.8], "padding": 0}, "axis": null},
            "text": {"field": "l1l"}
          }
        },
        {
          "data": {"name": "tb"},
          "mark": {"type": "text", "align": "right", "baseline": "middle", "dx": -2, "dy": -1.5, "fontSize": 8.5, "color": "#ffffff"},
          "encoding": {
            "x": {"field": "box", "type": "nominal", "bandPosition": 1, "scale": {"type": "band", "domain": ["Tbase","Trigger"], "range": [437.3, 599], "paddingInner": 0.02, "paddingOuter": 0}, "axis": null},
            "y": {"datum": "line2", "type": "nominal", "scale": {"type": "point", "domain": ["Measure","value","status","header","line1","line2"], "range": [4, 64.8], "padding": 0}, "axis": null},
            "text": {"field": "l2"}
          }
        },
        {
          "data": {"name": "tb"},
          "mark": {"type": "text", "align": "left", "baseline": "middle", "dx": 3, "dy": -1.5, "fontSize": 8.5, "color": "#ffffff"},
          "encoding": {
            "x": {"field": "box", "type": "nominal", "bandPosition": 0, "scale": {"type": "band", "domain": ["Tbase","Trigger"], "range": [437.3, 599], "paddingInner": 0.02, "paddingOuter": 0}, "axis": null},
            "y": {"datum": "line2", "type": "nominal", "scale": {"type": "point", "domain": ["Measure","value","status","header","line1","line2"], "range": [4, 64.8], "padding": 0}, "axis": null},
            "text": {"field": "l2l"}
          }
        }
      ]
    }
  ]
}
